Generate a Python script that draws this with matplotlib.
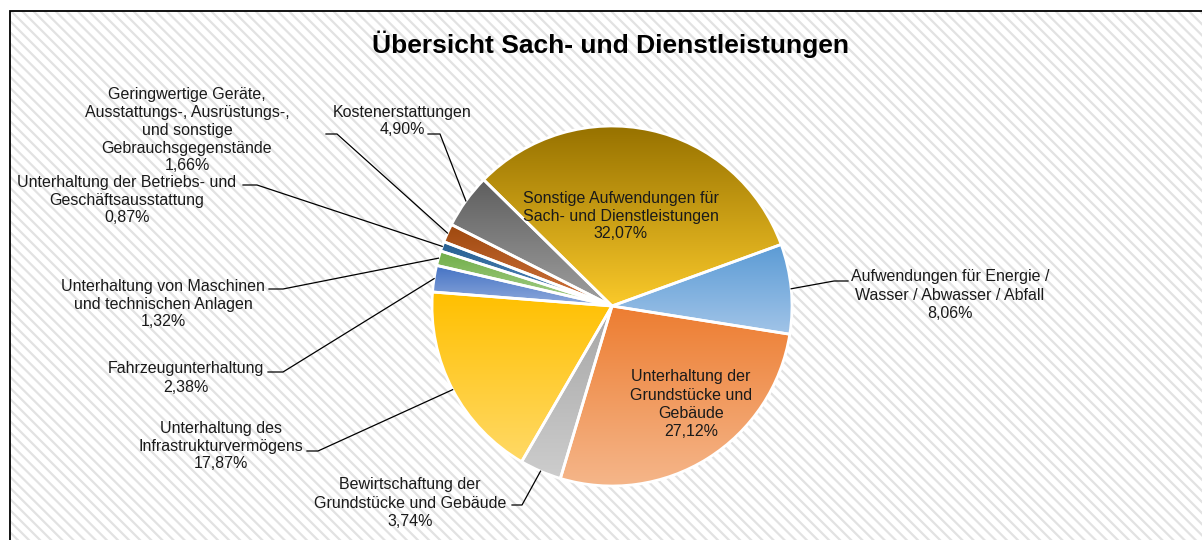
import numpy as np
import matplotlib.pyplot as plt
from matplotlib.patches import Rectangle
from matplotlib.colors import to_rgb

plt.rcParams['font.family'] = ['Liberation Sans', 'DejaVu Sans']
plt.rcParams['hatch.linewidth'] = 1.6

# data (Excel order, clockwise)
names = [
    "Aufwendungen für Energie /\nWasser / Abwasser / Abfall",
    "Unterhaltung der\nGrundstücke und\nGebäude",
    "Bewirtschaftung der\nGrundstücke und Gebäude",
    "Unterhaltung des\nInfrastrukturvermögens",
    "Fahrzeugunterhaltung",
    "Unterhaltung von Maschinen\nund technischen Anlagen",
    "Unterhaltung der Betriebs- und\nGeschäftsausstattung",
    "Geringwertige Geräte,\nAusstattungs-, Ausrüstungs-,\nund sonstige\nGebrauchsgegenstände",
    "Kostenerstattungen",
    "Sonstige Aufwendungen für\nSach- und Dienstleistungen",
]
values = [8.06, 27.12, 3.74, 17.87, 2.38, 1.32, 0.87, 1.66, 4.90, 32.07]

title = "Übersicht Sach- und Dienstleistungen"

# gradient colours, top -> bottom
top_colors = ['#5B9BD5', '#ED7D31', '#A5A5A5', '#FFC000', '#4472C4',
              '#70AD47', '#255E91', '#9E480E', '#5E5E5E', '#977200']
bottom_colors = ['#A1C4E8', '#F5B68A', '#CDCDCD', '#FFD966', '#8FAADC',
                 '#A9D18E', '#5B8DC0', '#D27540', '#A0A0A0', '#FAC92A']

W, H = 1202, 540
def py(y):
    return H - y

# label layout in pixels: text centre, leader start, leader elbow (None = inside)
label_pos = [
    ((950, 295), (848, 281), (834, 281)),
    ((691, 404), None, None),
    ((410, 503), (512, 505), (522, 505)),
    ((221, 446), (307, 451), (318, 451)),
    ((186, 378), (268, 372), (283, 372)),
    ((163, 304), (269, 289), (283, 289)),
    ((127, 200), (243, 185), (257, 185)),
    ((187, 130), (326, 134), (337, 134)),
    ((402, 121), (428, 134), (440, 134)),
    ((621, 216), None, None),
]

fig = plt.figure(figsize=(W / 100, H / 100), dpi=100)
ax = fig.add_axes([0, 0, 1, 1])

# hatched chart area + frame
ax.add_patch(Rectangle((10, -20), 1300, py(11) + 20, facecolor='white',
                       edgecolor='#E2E2E2', linewidth=0, hatch='\\\\\\', zorder=-2))
ax.add_patch(Rectangle((10, -20), 1300, py(11) + 20, facecolor='none',
                       edgecolor='black', linewidth=1.3, zorder=-1))

cx, cy, r = 612, py(306), 180
wedges, _ = ax.pie(values, startangle=20, counterclock=False, center=(cx, cy),
                   radius=r, colors=top_colors,
                   wedgeprops=dict(edgecolor='white', linewidth=2.0))

g = np.linspace(0, 1, 256)[:, None, None]
for w, c0, c1 in zip(wedges, top_colors, bottom_colors):
    ext = w.get_path().get_extents()
    grad = np.array(to_rgb(c0))[None, None, :] * (1 - g) + np.array(to_rgb(c1))[None, None, :] * g
    im = ax.imshow(grad, extent=(ext.x0, ext.x1, ext.y0, ext.y1), origin='upper',
                   aspect='auto', interpolation='bilinear', zorder=0.5)
    im.set_clip_path(w)
    w.set_facecolor('none')
    w.set_zorder(1)

for w, name, v, (tc, ls, le) in zip(wedges, names, values, label_pos):
    txt = name + "\n" + f"{v:.2f}".replace('.', ',') + "%"
    ax.text(tc[0], py(tc[1]), txt, ha='center', va='center', fontsize=11.5,
            color='#1a1a1a', linespacing=1.25, zorder=3)
    if ls is not None:
        th = np.deg2rad((w.theta1 + w.theta2) / 2)
        ex, ey = cx + r * np.cos(th), cy + r * np.sin(th)
        ax.plot([ls[0], le[0], ex], [py(ls[1]), py(le[1]), ey],
                color='black', linewidth=0.9, zorder=2)

ax.text(611, py(44), title, ha='center', va='center', fontsize=19,
        fontweight='bold', color='black', zorder=3)

ax.set_xlim(0, W)
ax.set_ylim(0, H)
ax.set_aspect('equal')
ax.axis('off')
fig.savefig('out.png', dpi=100)
